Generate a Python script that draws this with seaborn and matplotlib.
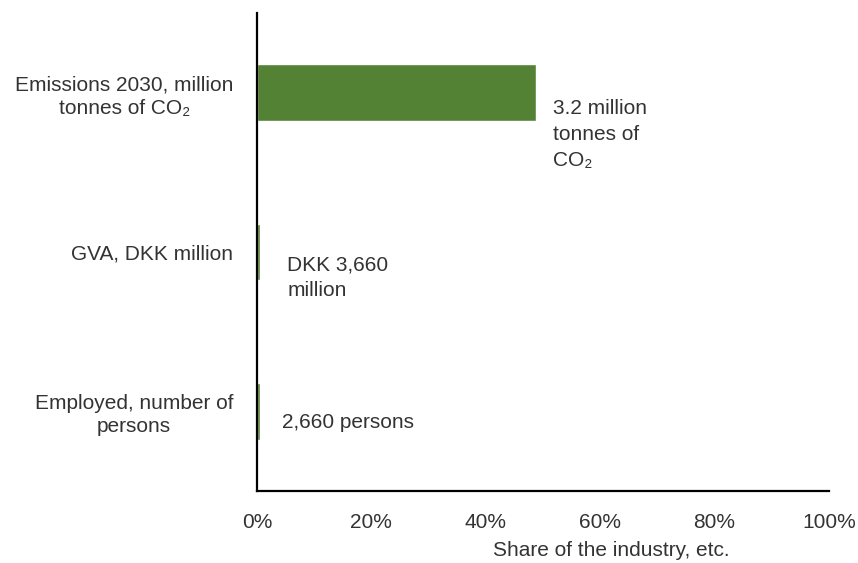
import matplotlib
matplotlib.use("Agg")
import matplotlib.pyplot as plt
import seaborn as sns
import pandas as pd

categories = ["Emissions 2030, million\ntonnes of CO₂", "GVA, DKK million", "Employed, number of\npersons"]
shares = [48.8, 0.6, 0.45]
value_labels = ["3.2 million\ntonnes of\nCO₂", "DKK 3,660\nmillion", "2,660 persons"]
x_ticks = [0, 20, 40, 60, 80, 100]
x_tick_labels = ["0%", "20%", "40%", "60%", "80%", "100%"]

sns.set_theme(style="white")
plt.rcParams["font.family"] = ["Liberation Sans", "DejaVu Sans"]
text_color = "#333333"
bar_color = "#548235"
fs = 15

df = pd.DataFrame({"category": categories, "share": shares})

fig = plt.figure(figsize=(8.58, 5.63), dpi=100)
ax = fig.add_axes([0.2995, 0.128, 0.6667, 0.849])

sns.barplot(data=df, x="share", y="category", orient="h", color=bar_color,
            width=0.355, saturation=1, ax=ax)

ax.set_xlim(0, 100)
ax.set_ylim(2.5, -0.5)
ax.set_xticks(x_ticks)
ax.set_xticklabels(x_tick_labels)
ax.tick_params(axis="x", length=0, pad=16, labelsize=fs, colors=text_color)
ax.tick_params(axis="y", length=0, pad=17, labelsize=fs, colors=text_color)
for lbl in ax.get_yticklabels():
    lbl.set_multialignment("center")
    lbl.set_linespacing(1.28)

ax.set_ylabel("")
ax.set_xlabel("Share of the industry, etc.", fontsize=fs, color=text_color)
ax.xaxis.set_label_coords(0.62, -0.105)

for side in ["top", "right"]:
    ax.spines[side].set_visible(False)
for side in ["left", "bottom"]:
    ax.spines[side].set_color("black")
    ax.spines[side].set_linewidth(1.6)

# value labels placed to the right of each bar end
offsets = [(17, -42), (27, -26), (22, -11)]
for i, (v, txt, off) in enumerate(zip(shares, value_labels, offsets)):
    ax.annotate(txt, xy=(v, i), xytext=off, textcoords="offset pixels",
                ha="left", va="center", fontsize=fs, color=text_color,
                linespacing=1.45)

fig.savefig("out.png", dpi=100)
